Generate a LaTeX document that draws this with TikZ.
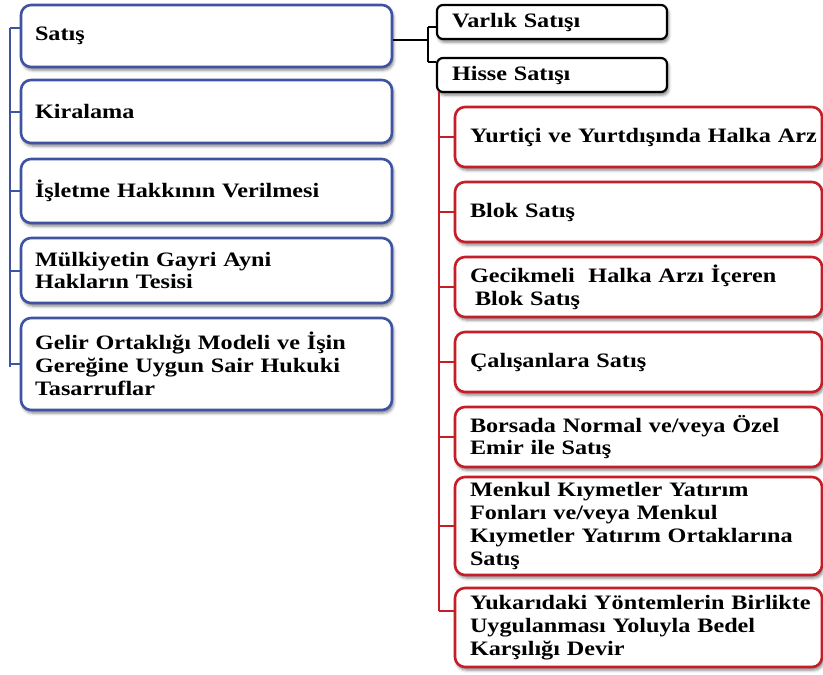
\documentclass[tikz,border=0pt]{standalone}
\usepackage{fontspec}
\usetikzlibrary{shadows.blur}
\newfontfamily\boxfont{Liberation Serif}[FakeStretch=1.18]
\definecolor{frameblue}{RGB}{62,84,163}
\definecolor{framered}{RGB}{196,30,40}
\tikzset{
  x=1pt, y=-1pt,
  basebox/.style={fill=white, rounded corners=10pt, line width=2.6pt,
    align=left, inner xsep=14pt, inner ysep=0pt,
    font=\boxfont\bfseries\fontsize{20.5}{22.8}\selectfont,
    blur shadow={shadow xshift=1.5pt, shadow yshift=-3pt,
      shadow blur radius=3pt, shadow opacity=50}},
  bluebox/.style={basebox, draw=frameblue, text width=343pt},
  blackbox/.style={basebox, draw=black, rounded corners=6pt, line width=2.2pt,
    inner xsep=15pt, text width=200pt, minimum height=34pt},
  redbox/.style={basebox, draw=framered, inner xsep=15pt, text width=337pt},
  bluelink/.style={draw=frameblue, line width=2pt},
  blacklink/.style={draw=black, line width=1.6pt},
  redlink/.style={draw=framered, line width=2pt},
}
\begin{document}
\begin{tikzpicture}
\useasboundingbox (0,0) rectangle (823,675);

% left column: ways of privatisation
\node[bluebox, minimum height=62pt] (satis)   at (206.5,36)    {Satış};
\node[bluebox, minimum height=63pt] (kira)    at (206.5,111.5) {Kiralama};
\node[bluebox, minimum height=64pt] (isletme) at (206.5,191)   {\mbox{İşletme Hakkının Verilmesi}};
\node[bluebox, minimum height=65pt] (mulk)    at (206.5,270.5) {Mülkiyetin Gayri Ayni\\Hakların Tesisi};
\node[bluebox, minimum height=92pt] (gelir)   at (206.5,364)   {\mbox{Gelir Ortaklığı Modeli ve İşin}\\\mbox{Gereğine Uygun Sair Hukuki}\\Tasarruflar};

% kinds of sale
\node[blackbox] (varlik) at (552,22) {Varlık Satışı};
\node[blackbox] (hisse)  at (552,75) {Hisse Satışı};

% methods of share sale
\node[redbox, minimum height=60pt] (yurt)   at (638.5,137)   {\mbox{Yurtiçi ve Yurtdışında Halka Arz}};
\node[redbox, minimum height=60pt] (blok)   at (638.5,212)   {Blok Satış};
\node[redbox, minimum height=60pt] (gecik)  at (638.5,287)   {\mbox{Gecikmeli \ Halka Arzı İçeren}\\\hspace*{5pt}Blok Satış};
\node[redbox, minimum height=60pt] (calis)  at (638.5,362)   {Çalışanlara Satış};
\node[redbox, minimum height=60pt] (borsa)  at (638.5,437)   {\mbox{Borsada Normal ve/veya Özel}\\Emir ile Satış};
\node[redbox, minimum height=98pt] (menkul) at (638.5,526)   {Menkul Kıymetler Yatırım\\Fonları ve/veya Menkul\\\mbox{Kıymetler Yatırım Ortaklarına}\\Satış};
\node[redbox, minimum height=79pt] (yukari) at (638.5,627.5) {\mbox{Yukarıdaki Yöntemlerin Birlikte}\\\mbox{Uygulanması Yoluyla Bedel}\\Karşılığı Devir};

% left bracket
\coordinate (ltop) at (10,28);
\coordinate (lbot) at (10,367);
\draw[bluelink] (ltop) -- (lbot);
\draw[bluelink] (ltop) -- (ltop -| satis.west);
\foreach \n in {kira,isletme,mulk,gelir}
  \draw[bluelink] (\n.west) -- (\n.west -| ltop);

% Satış -> Varlık / Hisse
\coordinate (sj) at (428,40);
\coordinate (vt) at (428,27);
\coordinate (ht) at (428,62);
\draw[blacklink] (sj -| satis.east) -- (sj);
\draw[blacklink] (vt) -- (ht);
\draw[blacklink] (vt) -- (vt -| varlik.west);
\draw[blacklink] (ht) -- (ht -| hisse.west);

% Hisse Satışı -> methods
\coordinate (rtop) at (439,92);
\coordinate (rbot) at (439,611);
\draw[redlink] (rtop) -- (rbot);
\foreach \n in {yurt,blok,gecik,calis,borsa,menkul}
  \draw[redlink] (\n.west) -- (\n.west -| rtop);
\draw[redlink] (rbot) -- (rbot -| yukari.west);
\end{tikzpicture}
\end{document}
